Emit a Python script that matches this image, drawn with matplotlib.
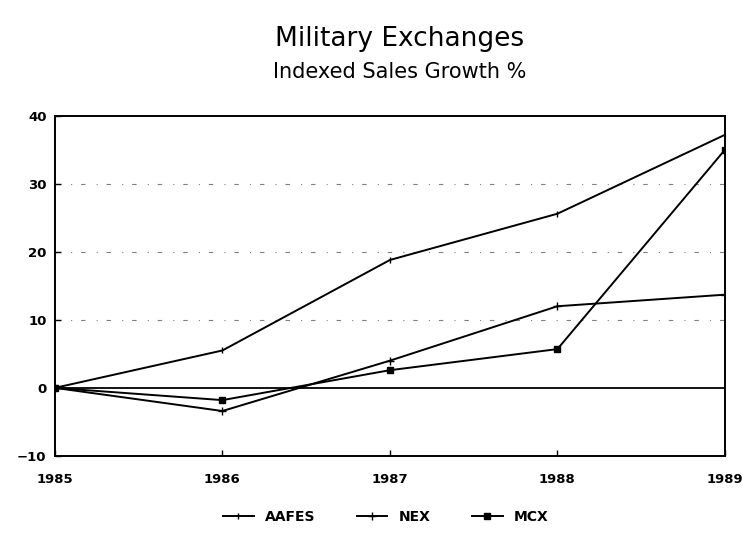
import matplotlib.pyplot as plt
import numpy as np

# data
years = [1985, 1986, 1987, 1988, 1989]
aafes = [0, 5.5, 18.8, 25.6, 37.2]
nex = [0, -3.4, 4.0, 12.0, 13.7]
mcx = [0, -1.8, 2.6, 5.7, 35.0]

fig = plt.figure(figsize=(7.42, 5.46), dpi=100)
ax = fig.add_axes([0.074, 0.165, 0.903, 0.623])

# faint broken grid lines like the photocopy
for g in [10, 20, 30]:
    ax.axhline(g, color='0.5', lw=0.8, ls=(0, (4, 10, 1, 8)), zorder=0)
ax.axhline(0, color='black', lw=1.3)

ax.plot(years, aafes, color='black', lw=1.4, marker='|', ms=5, label='AAFES')
ax.plot(years, nex, color='black', lw=1.4, marker='+', ms=6, label='NEX')
ax.plot(years, mcx, color='black', lw=1.4, marker='s', ms=4, label='MCX')

ax.set_xlim(1985, 1989)
ax.set_ylim(-10, 40)
ax.set_xticks(years)
ax.set_yticks([-10, 0, 10, 20, 30, 40])
ax.tick_params(direction='in', length=4, labelsize=9.5, width=1)
for lab in ax.get_xticklabels() + ax.get_yticklabels():
    lab.set_fontweight('bold')
ax.tick_params(axis='x', pad=12)
ax.tick_params(axis='y', pad=6)
for s in ax.spines.values():
    s.set_linewidth(1.4)

fig.text(0.538, 0.915, 'Military Exchanges', ha='center', fontsize=19)
fig.text(0.538, 0.858, 'Indexed Sales Growth %', ha='center', fontsize=15)

fig.legend(loc='center', bbox_to_anchor=(0.52, 0.053), ncol=3, frameon=False,
           prop={'weight': 'bold', 'size': 10}, handlelength=2.2, columnspacing=3.0)

fig.savefig('out.png', dpi=100)
